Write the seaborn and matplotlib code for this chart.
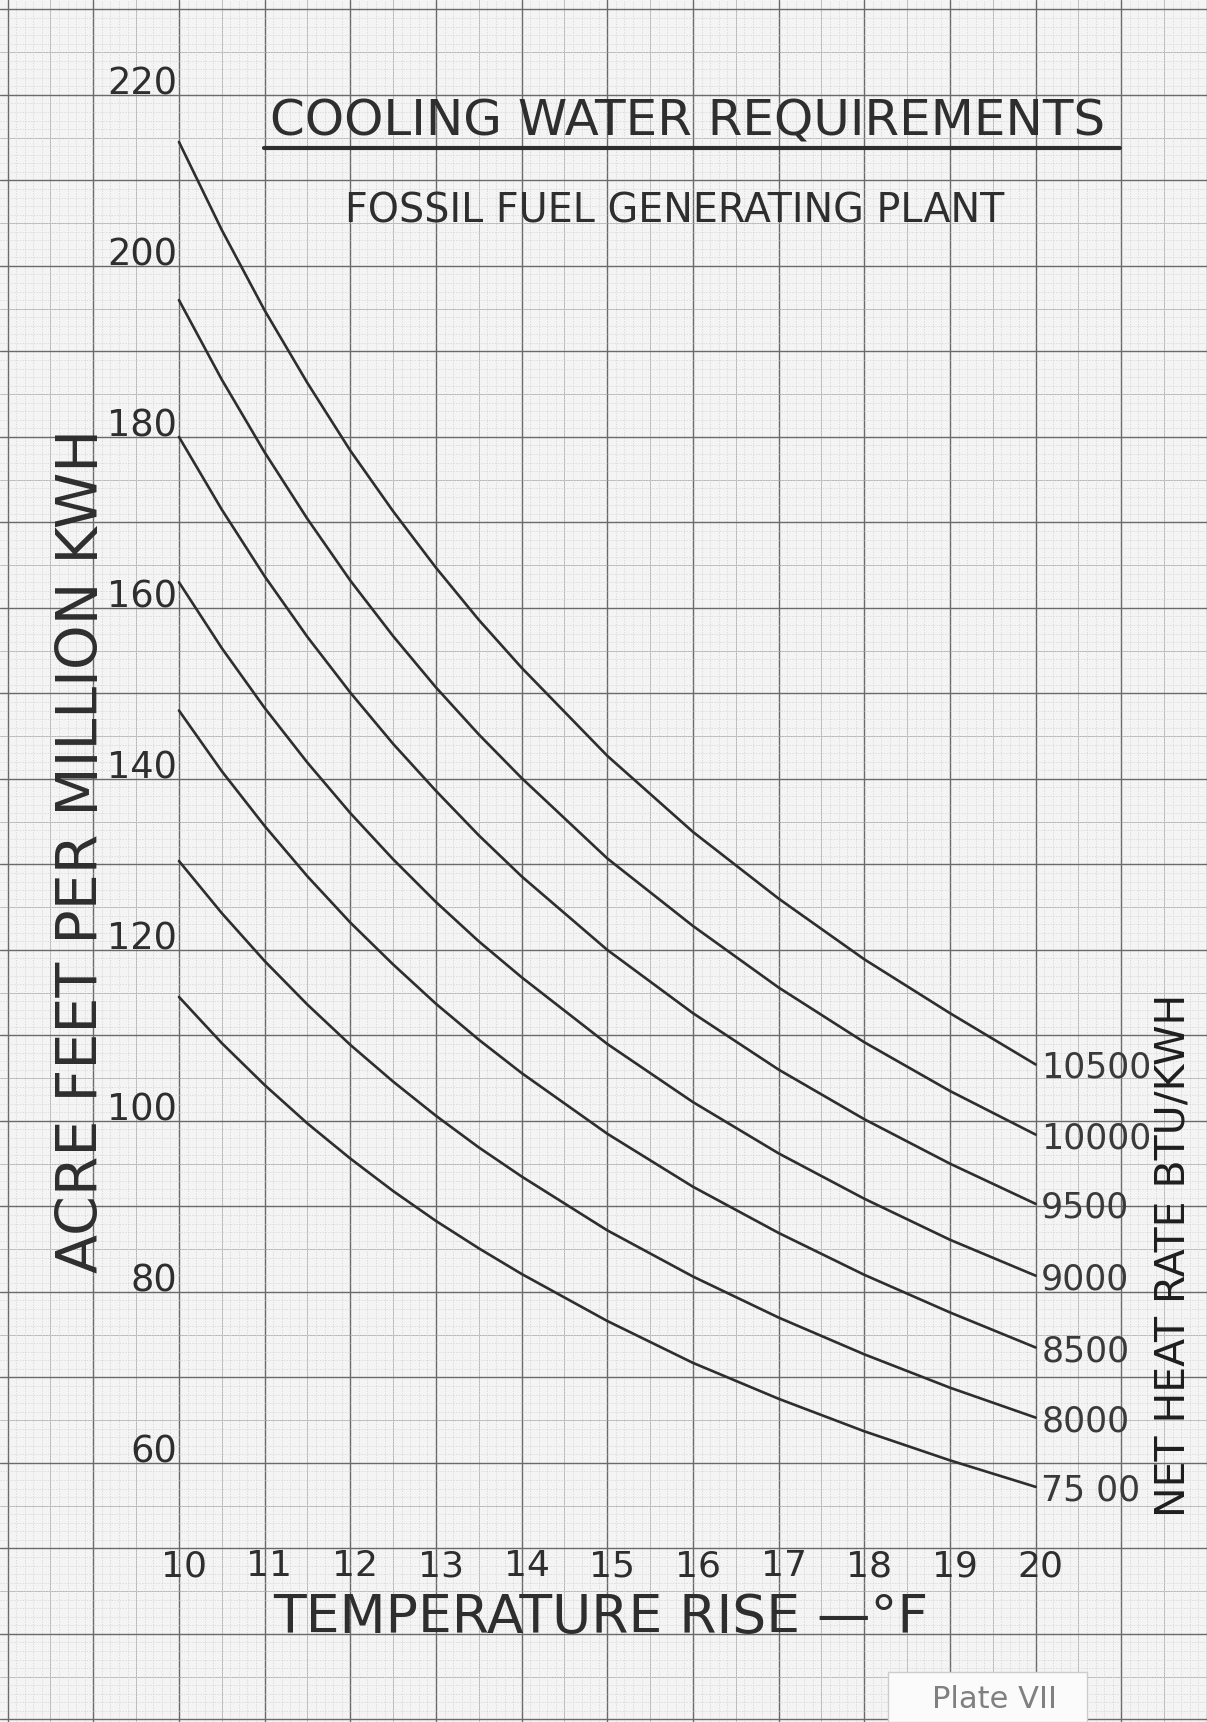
import numpy as np
import pandas as pd
import matplotlib
matplotlib.use('Agg')
import matplotlib.pyplot as plt
from matplotlib.lines import Line2D
from matplotlib.patches import Rectangle
import seaborn as sns

# temperature rise (deg F) where the curves were read off the plate
# (half steps on the steep left part so the curves stay smooth)
temp_rise = [10, 10.5, 11, 11.5, 12, 12.5, 13, 13.5, 14, 15, 16, 17, 18, 19, 20]

# acre feet per million kwh, one list per net heat rate (btu/kwh)
af_10500 = [214.5, 204.2, 194.8, 186.3, 178.4, 171.3, 164.7, 158.6, 153.0, 142.7, 133.8, 126.0, 118.9, 112.6, 106.6]
af_10000 = [196.0, 186.7, 178.2, 170.4, 163.2, 156.7, 150.7, 145.2, 140.1, 130.7, 122.8, 115.6, 109.2, 103.5, 98.4]
af_9500 = [180.0, 171.5, 163.7, 156.6, 150.1, 144.1, 138.6, 133.4, 128.6, 120.0, 112.6, 106.0, 100.2, 95.0, 90.3]
af_9000 = [163.0, 155.3, 148.3, 141.9, 136.0, 130.6, 125.6, 121.0, 116.8, 109.0, 102.2, 96.2, 90.9, 86.1, 81.9]
af_8500 = [148.0, 140.9, 134.5, 128.6, 123.2, 118.3, 113.7, 109.5, 105.6, 98.5, 92.3, 86.9, 82.0, 77.6, 73.5]
af_8000 = [130.4, 124.3, 118.7, 113.6, 108.9, 104.6, 100.6, 96.9, 93.5, 87.2, 81.8, 77.0, 72.7, 68.8, 65.3]
af_7500 = [114.5, 109.1, 104.2, 99.7, 95.6, 91.8, 88.3, 85.1, 82.1, 76.6, 71.7, 67.5, 63.7, 60.3, 57.2]

heat_rates = [10500, 10000, 9500, 9000, 8500, 8000, 7500]
rate_labels = ['10500', '10000', '9500', '9000', '8500', '8000', '75 00']
series = [af_10500, af_10000, af_9500, af_9000, af_8500, af_8000, af_7500]

x_tick_labels = [10, 11, 12, 13, 14, 15, 16, 17, 18, 19, 20]
y_tick_labels = [60, 80, 100, 120, 140, 160, 180, 200, 220]

df = pd.concat([pd.DataFrame({'rise': temp_rise, 'acre_ft': vals, 'heat_rate': hr})
                for hr, vals in zip(heat_rates, series)], ignore_index=True)

sns.set_style('white')
plt.rcParams['font.family'] = ['DejaVu Sans']

ink = '#2e2e2e'
fig = plt.figure(figsize=(12.07, 17.22), dpi=100, facecolor='#f6f6f6')
ax = fig.add_axes([0, 0, 1, 1])
ax.set_facecolor('#f4f4f4')

# graph paper: whole sheet is the axes
ax.set_xlim(7.911, 21.995)
ax.set_ylim(29.7, 231.1)
ax.set_xticks(np.arange(8, 23, 1))
ax.set_xticks(np.arange(8, 22.01, 0.1), minor=True)
ax.set_yticks(np.arange(30, 240, 10))
ax.set_yticks(np.arange(30, 231, 1), minor=True)
ax.tick_params(which='both', length=0, labelbottom=False, labelleft=False)
for s in ax.spines.values():
    s.set_visible(False)
ax.set_axisbelow(True)
ax.grid(which='major', color='#6a6a6a', lw=1.0)
ax.grid(which='minor', color='#d2d2d2', lw=0.5, ls=(0, (2, 2)))
for xv in np.arange(8.5, 22, 1):
    ax.axvline(xv, color='#b4b4b4', lw=0.7, zorder=0.5)
for yv in np.arange(35, 231, 10):
    ax.axhline(yv, color='#b4b4b4', lw=0.7, zorder=0.5)

sns.lineplot(data=df, x='rise', y='acre_ft', units='heat_rate', estimator=None,
             color=ink, lw=1.9, ax=ax, legend=False, sort=False, zorder=4)
ax.set_xlabel('')
ax.set_ylabel('')

# curve labels at the right ends
for lab, vals in zip(rate_labels, series):
    ax.annotate(lab, (temp_rise[-1], vals[-1]), xytext=(4, 0), textcoords='offset points',
                ha='left', va='center_baseline', fontsize=25, color='#3a3a3a')

# hand lettered axis numbers
for v in y_tick_labels:
    ax.annotate(str(v), (10, v), xytext=(-1.5, 0), textcoords='offset points',
                ha='right', va='baseline', fontsize=26.5, color=ink)
for v in x_tick_labels:
    ax.annotate(str(v), (v, 50), xytext=(3.5, -20), textcoords='offset points',
                ha='center', va='baseline', fontsize=26, color=ink)

fig.text(0.5696, 0.9216, 'COOLING WATER REQUIREMENTS', ha='center', va='baseline',
         fontsize=36, color=ink)
fig.add_artist(Line2D([0.2187, 0.9279], [0.9141, 0.9141], transform=fig.transFigure,
                      color=ink, lw=3))
fig.text(0.5592, 0.8705, 'FOSSIL FUEL GENERATING PLANT', ha='center', va='baseline',
         fontsize=28.5, color=ink)
fig.text(0.498, 0.0517, 'TEMPERATURE RISE —°F', ha='center', va='baseline',
         fontsize=38.5, color=ink)
fig.text(0.068, 0.5058, 'ACRE FEET PER MILLION KWH', rotation=90, ha='center', va='center',
         fontsize=41, color=ink)
fig.text(0.972, 0.2712, 'NET HEAT RATE BTU/KWH', rotation=90, ha='center', va='center',
         fontsize=29.5, color='#1e1e1e')

# pasted plate label
fig.add_artist(Rectangle((888 / 1207, 0), 199 / 1207, 50 / 1722, transform=fig.transFigure,
                         facecolor='#fbfbfb', edgecolor='#cccccc', lw=1, zorder=5))
fig.text(994 / 1207, 1 - 1708 / 1722, 'Plate VII', ha='center', va='baseline',
         fontsize=22, color='#808080', zorder=6)

fig.savefig('out.png', dpi=100, facecolor=fig.get_facecolor())
